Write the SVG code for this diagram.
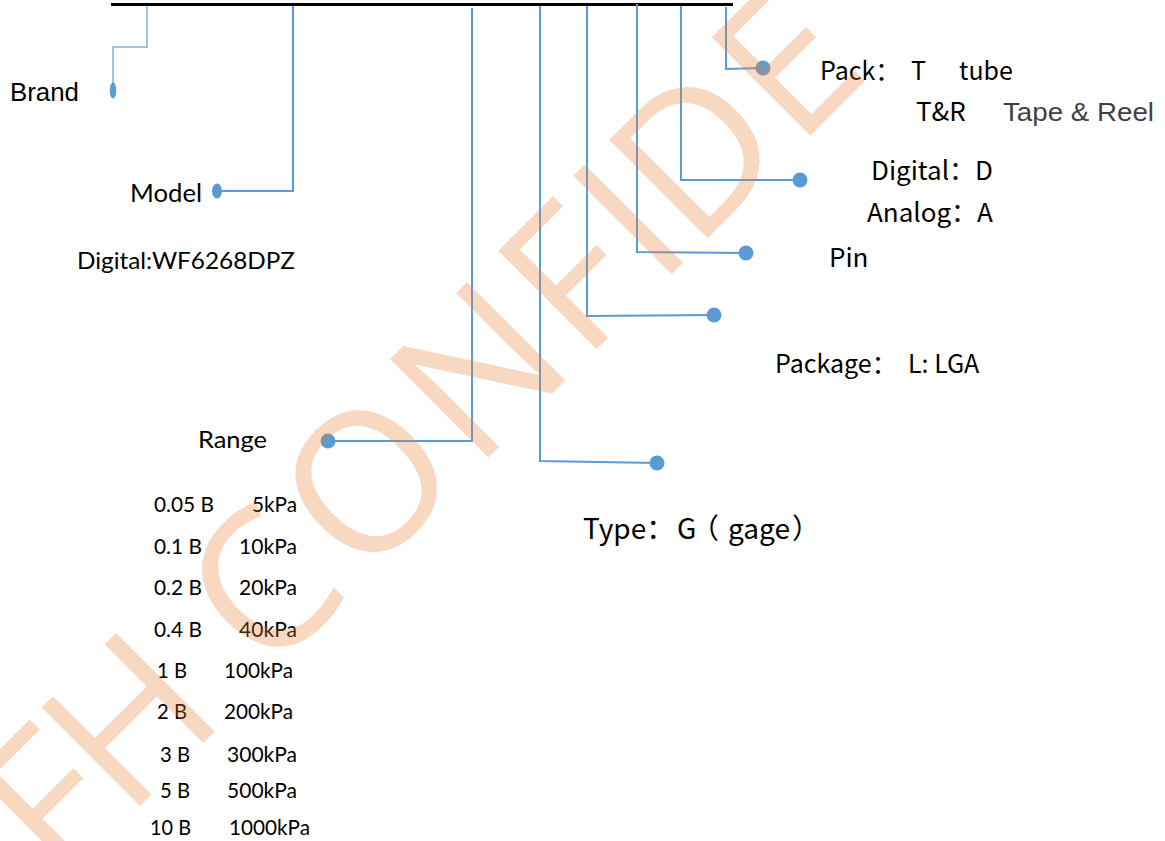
<svg xmlns="http://www.w3.org/2000/svg" width="1165" height="841" viewBox="0 0 1165 841">
<defs>
<style>
.ln{fill:none;stroke:#5B9BD5;stroke-width:2;stroke-linejoin:miter}
.dot{fill:#5B9BD5}
.ar{font-family:"Liberation Sans",Arial,sans-serif;fill:#000}
.lt{font-family:Lato,"Liberation Sans",sans-serif;fill:#000}
.cj{font-family:"Noto Sans CJK SC","Noto Sans",sans-serif;fill:#000}
.wm{font-family:"Open Sans","Liberation Sans",sans-serif;font-weight:370;font-size:195px;fill:#ED7D31;opacity:0.29}
</style>
</defs>
<rect width="1165" height="841" fill="#fff"/>
<g id="connectors">
<line x1="111" y1="4.5" x2="733" y2="4.5" stroke="#000" stroke-width="3"/>
<polyline class="ln" points="147,6 147,47 113,47 113,85" style="stroke:#7FB2E0;stroke-width:1.5"/>
<polyline class="ln" points="293,6 293,191 218,191"/>
<polyline class="ln" points="472,8 472,441 328,441"/>
<polyline class="ln" points="540,6 540,461 657,463"/>
<polyline class="ln" points="587,6 587,316 714,315"/>
<polyline class="ln" points="637,4 637,252 746,253"/>
<polyline class="ln" points="681,6 681,180 800,180"/>
<polyline class="ln" points="726,7 726,69 763,68"/>
</g>
<g id="brand">
<ellipse class="dot" cx="113" cy="90.5" rx="3.2" ry="8"/>
<text class="ar" x="10" y="101" font-size="25" textLength="69" lengthAdjust="spacingAndGlyphs">Brand</text>
</g>
<g id="model">
<ellipse class="dot" cx="217" cy="191" rx="5" ry="7.5"/>
<text class="lt" x="130" y="202" font-size="25" textLength="72" lengthAdjust="spacingAndGlyphs">Model</text>
<text class="lt" x="77" y="269" font-size="22.5" textLength="218" lengthAdjust="spacingAndGlyphs">Digital:WF6268DPZ</text>
</g>
<g id="range">
<circle class="dot" cx="328" cy="441" r="7.5"/>
<text class="lt" x="198" y="448" font-size="24" textLength="69" lengthAdjust="spacingAndGlyphs">Range</text>
<g class="lt" font-size="21">
<text x="154" y="512" textLength="60" lengthAdjust="spacingAndGlyphs">0.05 B</text>
<text x="252" y="512" textLength="45" lengthAdjust="spacingAndGlyphs">5kPa</text>
<text x="154" y="554" textLength="48" lengthAdjust="spacingAndGlyphs">0.1 B</text>
<text x="239" y="554" textLength="58" lengthAdjust="spacingAndGlyphs">10kPa</text>
<text x="154" y="595" textLength="48" lengthAdjust="spacingAndGlyphs">0.2 B</text>
<text x="239" y="595" textLength="58" lengthAdjust="spacingAndGlyphs">20kPa</text>
<text x="154" y="637" textLength="48" lengthAdjust="spacingAndGlyphs">0.4 B</text>
<text x="239" y="637" textLength="58" lengthAdjust="spacingAndGlyphs">40kPa</text>
<text x="157" y="678" textLength="30" lengthAdjust="spacingAndGlyphs">1 B</text>
<text x="224" y="678" textLength="69" lengthAdjust="spacingAndGlyphs">100kPa</text>
<text x="157" y="719" textLength="30" lengthAdjust="spacingAndGlyphs">2 B</text>
<text x="224" y="719" textLength="69" lengthAdjust="spacingAndGlyphs">200kPa</text>
<text x="160" y="762" textLength="30" lengthAdjust="spacingAndGlyphs">3 B</text>
<text x="227" y="762" textLength="70" lengthAdjust="spacingAndGlyphs">300kPa</text>
<text x="160" y="798" textLength="30" lengthAdjust="spacingAndGlyphs">5 B</text>
<text x="227" y="798" textLength="70" lengthAdjust="spacingAndGlyphs">500kPa</text>
<text x="150" y="835" textLength="41" lengthAdjust="spacingAndGlyphs">10 B</text>
<text x="229" y="835" textLength="81" lengthAdjust="spacingAndGlyphs">1000kPa</text>
</g>
</g>
<g id="type">
<circle class="dot" cx="657" cy="463" r="7.5"/>
<text class="cj" y="539" font-size="28"><tspan x="583">Type：</tspan><tspan x="677">G</tspan><tspan x="691">（</tspan><tspan x="728">gage</tspan><tspan x="792">）</tspan></text>
</g>
<g id="package">
<circle class="dot" cx="714" cy="315" r="7.5"/>
<text class="cj" y="373" font-size="25"><tspan x="775">Package：</tspan><tspan x="908">L: LGA</tspan></text>
</g>
<g id="pin">
<circle class="dot" cx="746" cy="253" r="7.5"/>
<text class="cj" x="829" y="267" font-size="26">Pin</text>
</g>
<g id="signal">
<circle class="dot" cx="800" cy="180" r="7.5"/>
<text class="cj" x="871" y="180" font-size="26">Digital：D</text>
<text class="cj" x="867" y="222" font-size="26">Analog：A</text>
</g>
<g id="pack">
<circle class="dot" cx="763" cy="68" r="7.5"/>
<text class="cj" y="80" font-size="25"><tspan x="820">Pack：</tspan><tspan x="911">T</tspan><tspan x="959">tube</tspan></text>
<text class="cj" x="916" y="121" font-size="26">T&amp;R</text>
<text class="ar" x="1003" y="121" font-size="26" style="fill:#404040" textLength="151" lengthAdjust="spacingAndGlyphs">Tape &amp; Reel</text>
</g>
<g id="watermark">
<text class="wm" transform="translate(473,473) rotate(-45)" x="-584 -490 -291 -157 3 156 262 313 458" y="0">FHCONFIDE</text>
</g>
</svg>
